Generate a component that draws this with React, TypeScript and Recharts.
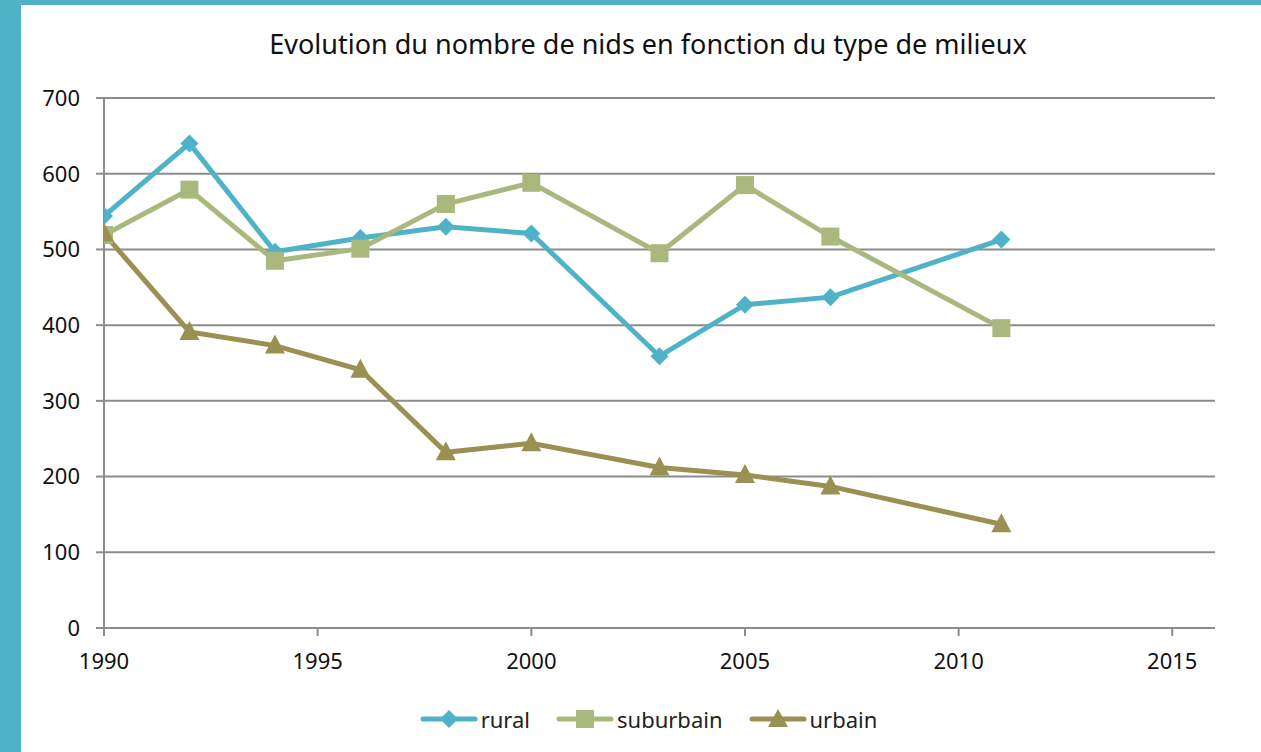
import React from "react";
import {
  LineChart,
  Line,
  XAxis,
  YAxis,
  CartesianGrid,
  Legend,
} from "recharts";

const YEARS = [1990, 1992, 1994, 1996, 1998, 2000, 2003, 2005, 2007, 2011];
const RURAL = [544, 640, 497, 515, 530, 521, 359, 427, 437, 513];
const SUBURBAIN = [519, 579, 485, 501, 560, 588, 495, 585, 517, 396];
const URBAIN = [521, 391, 373, 341, 232, 244, 212, 202, 187, 137];
const X_TICKS = [1990, 1995, 2000, 2005, 2010, 2015];
const Y_TICKS = [0, 100, 200, 300, 400, 500, 600, 700];

const TEAL = "#4fb3c8";
const GREEN = "#a9b97e";
const OLIVE = "#9a9052";
const GRID = "#8c8c8c";
const FONT = "'Noto Sans', 'Open Sans', sans-serif";

const data = YEARS.map((year, i) => ({
  year,
  rural: RURAL[i],
  suburbain: SUBURBAIN[i],
  urbain: URBAIN[i],
}));

// eslint-disable-next-line @typescript-eslint/no-explicit-any
const diamond = (props: any) => {
  const { cx, cy, index } = props;
  const r = 9;
  return (
    <polygon
      key={`d-${index}`}
      points={`${cx},${cy - r} ${cx + r},${cy} ${cx},${cy + r} ${cx - r},${cy}`}
      fill={TEAL}
    />
  );
};

// eslint-disable-next-line @typescript-eslint/no-explicit-any
const square = (props: any) => {
  const { cx, cy, index } = props;
  return (
    <rect key={`s-${index}`} x={cx - 9} y={cy - 9} width={18} height={18} fill={GREEN} />
  );
};

// eslint-disable-next-line @typescript-eslint/no-explicit-any
const triangle = (props: any) => {
  const { cx, cy, index } = props;
  return (
    <polygon
      key={`t-${index}`}
      points={`${cx},${cy - 11} ${cx + 10},${cy + 8} ${cx - 10},${cy + 8}`}
      fill={OLIVE}
    />
  );
};

const legendItems = [
  { name: "rural", color: TEAL, shape: "diamond" },
  { name: "suburbain", color: GREEN, shape: "square" },
  { name: "urbain", color: OLIVE, shape: "triangle" },
];

const renderLegend = () => (
  <div
    style={{
      display: "flex",
      justifyContent: "center",
      alignItems: "center",
      gap: 26,
      fontFamily: FONT,
      fontSize: 22,
      color: "#222",
      paddingLeft: 36,
    }}
  >
    {legendItems.map((item) => (
      <div key={item.name} style={{ display: "flex", alignItems: "center" }}>
        <svg width={58} height={22} style={{ marginRight: 3 }}>
          <line x1={3} y1={11} x2={55} y2={11} stroke={item.color} strokeWidth={5} strokeLinecap="round" />
          {item.shape === "diamond" && (
            <polygon points="29,2 38,11 29,20 20,11" fill={item.color} />
          )}
          {item.shape === "square" && <rect x={20} y={2} width={18} height={18} fill={item.color} />}
          {item.shape === "triangle" && <polygon points="29,1 39,19 19,19" fill={item.color} />}
        </svg>
        <span>{item.name}</span>
      </div>
    ))}
  </div>
);

export default function App() {
  return (
    <div
      style={{
        position: "absolute",
        left: 0,
        top: 0,
        width: 1261,
        height: 752,
        background: "#fff",
        overflow: "hidden",
      }}
    >
      <div style={{ position: "absolute", left: 0, top: 0, width: 21, height: 752, background: TEAL }} />
      <div style={{ position: "absolute", left: 0, top: 0, width: 1261, height: 5, background: TEAL }} />
      <div
        style={{
          position: "absolute",
          left: 21,
          top: 25,
          width: 1254,
          textAlign: "center",
          fontFamily: FONT,
          fontSize: 27,
          color: "#111",
        }}
      >
        Evolution du nombre de nids en fonction du type de milieux
      </div>
      <div style={{ position: "absolute", left: 0, top: 0 }}>
        <LineChart
          width={1261}
          height={752}
          data={data}
          margin={{ top: 98, right: 46, bottom: 84, left: 24 }}
        >
          <CartesianGrid horizontal vertical={false} stroke={GRID} strokeWidth={2} />
          <XAxis
            dataKey="year"
            type="number"
            domain={[1990, 2016]}
            ticks={X_TICKS}
            allowDataOverflow
            height={40}
            tickSize={8}
            tickMargin={17}
            stroke={GRID}
            strokeWidth={2}
            tick={{ fill: "#111", fontSize: 22, fontFamily: FONT }}
          />
          <YAxis
            domain={[0, 700]}
            ticks={Y_TICKS}
            width={80}
            tickSize={8}
            tickMargin={16}
            stroke={GRID}
            strokeWidth={2}
            tick={{ fill: "#111", fontSize: 22, fontFamily: FONT }}
          />
          <Legend
            verticalAlign="middle"
            layout="horizontal"
            content={renderLegend}
            wrapperStyle={{ top: 704, left: 0, width: 1261 }}
          />
          <Line
            dataKey="rural"
            stroke={TEAL}
            strokeWidth={5}
            dot={diamond}
            activeDot={false}
            isAnimationActive={false}
          />
          <Line
            dataKey="suburbain"
            stroke={GREEN}
            strokeWidth={5}
            dot={square}
            activeDot={false}
            isAnimationActive={false}
          />
          <Line
            dataKey="urbain"
            stroke={OLIVE}
            strokeWidth={5}
            dot={triangle}
            activeDot={false}
            isAnimationActive={false}
          />
        </LineChart>
      </div>
    </div>
  );
}
